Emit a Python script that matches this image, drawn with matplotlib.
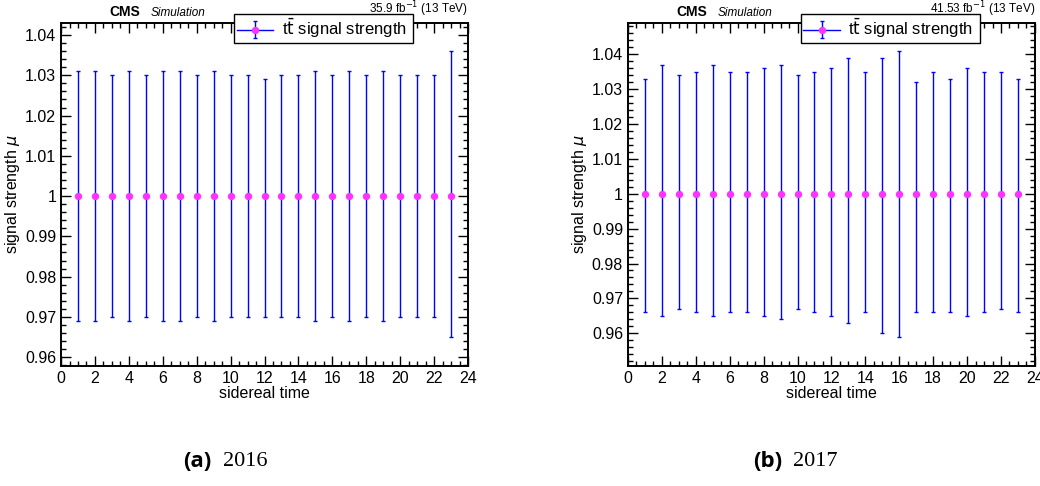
import matplotlib
matplotlib.use('Agg')
import matplotlib.pyplot as plt
import numpy as np
from matplotlib.lines import Line2D
from matplotlib.legend_handler import HandlerTuple
from matplotlib.ticker import MultipleLocator

plt.rcParams['font.family'] = ['Liberation Sans', 'DejaVu Sans']

# sidereal time bins
hours = list(range(1, 24))

# 2016: central value and upper/lower ends of error bars
mu_2016 = [1.0] * 23
up_2016 = [1.031, 1.031, 1.030, 1.031, 1.030, 1.031, 1.031, 1.030, 1.031, 1.030, 1.030, 1.029,
           1.030, 1.030, 1.031, 1.030, 1.031, 1.030, 1.031, 1.030, 1.030, 1.030, 1.036]
lo_2016 = [0.969, 0.969, 0.970, 0.969, 0.970, 0.969, 0.969, 0.970, 0.969, 0.970, 0.970, 0.970,
           0.970, 0.970, 0.969, 0.970, 0.969, 0.970, 0.969, 0.970, 0.970, 0.970, 0.965]

# 2017
mu_2017 = [1.0] * 23
up_2017 = [1.033, 1.037, 1.034, 1.035, 1.037, 1.035, 1.035, 1.036, 1.037, 1.034, 1.035, 1.036,
           1.039, 1.035, 1.039, 1.041, 1.032, 1.035, 1.033, 1.036, 1.035, 1.035, 1.033]
lo_2017 = [0.966, 0.965, 0.967, 0.966, 0.965, 0.966, 0.966, 0.965, 0.964, 0.967, 0.966, 0.965,
           0.963, 0.966, 0.960, 0.959, 0.966, 0.966, 0.966, 0.965, 0.966, 0.967, 0.966]

lumi = ['35.9 fb$^{-1}$ (13 TeV)', '41.53 fb$^{-1}$ (13 TeV)']
captions = [('(a)', '2016'), ('(b)', '2017')]
ylims = [(0.9578, 1.043), (0.9506, 1.049)]

fig = plt.figure(figsize=(10.4, 4.86), dpi=100)
ax1 = fig.add_axes([0.0587, 0.2469, 0.3913, 0.7058])
ax2 = fig.add_axes([0.6038, 0.2469, 0.3913, 0.7058])

data = [(mu_2016, up_2016, lo_2016), (mu_2017, up_2017, lo_2017)]
cap_x = [(183, 223), (753, 793)]

for i, ax in enumerate([ax1, ax2]):
    mu, up, lo = data[i]
    mu = np.array(mu)
    yerr = [mu - np.array(lo), np.array(up) - mu]
    eb = ax.errorbar(hours, mu, yerr=yerr, fmt='o', color='#ff33ff', ms=4.3,
                     ecolor='#0000ff', elinewidth=1.0, capsize=1.3, capthick=1.0, zorder=3)
    ax.set_xlim(0, 24)
    ax.set_ylim(*ylims[i])
    ax.xaxis.set_major_locator(MultipleLocator(2))
    ax.xaxis.set_minor_locator(MultipleLocator(0.5))
    ax.yaxis.set_major_locator(MultipleLocator(0.01))
    ax.yaxis.set_minor_locator(MultipleLocator(0.002))
    ax.yaxis.set_major_formatter(plt.FuncFormatter(lambda v, p: ('%.2f' % v).rstrip('0').rstrip('.')))
    ax.tick_params(which='both', direction='in', top=True, right=True, labelsize=11.5, width=1)
    ax.tick_params(which='major', length=7)
    ax.tick_params(which='minor', length=3.5)
    for s in ax.spines.values():
        s.set_linewidth(1.4)
    ax.set_xlabel('sidereal time', fontsize=11.5, labelpad=0)
    ax.set_ylabel(r'signal strength $\mu$', fontsize=11.5, labelpad=2)

    hline = Line2D([], [], color='#0000ff', lw=1.0)
    leg = ax.legend([(hline, eb)], [r't$\bar{\mathrm{t}}$ signal strength'],
                    handler_map={tuple: HandlerTuple(ndivide=1)},
                    loc='lower left', bbox_to_anchor=(0.425, 0.942, 0.44, 0.058),
                    mode='expand', borderaxespad=0, fancybox=False, framealpha=1,
                    edgecolor='black', fontsize=12, handlelength=2.2,
                    handletextpad=0.5, borderpad=0.15)
    leg.get_frame().set_linewidth(1.0)

    ax.text(0.118, 1.012, 'CMS', transform=ax.transAxes, fontsize=10,
            fontweight='bold', ha='left', va='bottom')
    ax.text(0.22, 1.012, 'Simulation', transform=ax.transAxes, fontsize=8.5,
            style='italic', ha='left', va='bottom')
    ax.text(1.0, 1.012, lumi[i], transform=ax.transAxes, fontsize=8.5,
            ha='right', va='bottom')

    lab, year = captions[i]
    fig.text(cap_x[i][0] / 1040, 1 - 461 / 486, lab, fontsize=16, fontweight='bold',
             family=['Open Sans', 'DejaVu Sans'], ha='left', va='center')
    fig.text(cap_x[i][1] / 1040, 1 - 461 / 486, year, fontsize=16,
             family=['Liberation Serif', 'DejaVu Serif'], ha='left', va='center')

fig.savefig('out.png', dpi=100)
